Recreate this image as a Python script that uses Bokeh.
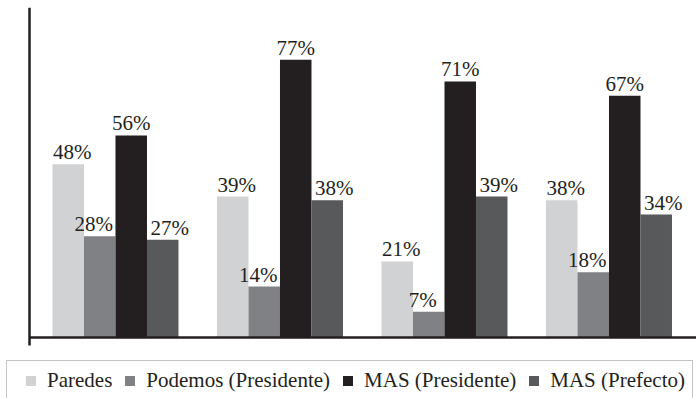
from bokeh.plotting import figure
from bokeh.models import (ColumnDataSource, Range1d, Legend, LegendItem,
                          FixedTicker, LinearAxis)
from bokeh.transform import dodge
from bokeh.embed import file_html
from bokeh.resources import INLINE
from bokeh.core.properties import value

# ---- data ----
groups = [0, 1, 2, 3]
series = ["Paredes", "Podemos (Presidente)", "MAS (Presidente)", "MAS (Prefecto)"]
paredes = [48, 39, 21, 38]
podemos = [28, 14, 7, 18]
mas_presidente = [56, 77, 71, 67]
mas_prefecto = [27, 38, 39, 34]
colors = ["#d1d2d4", "#808184", "#231f20", "#58595b"]

values = [paredes, podemos, mas_presidente, mas_prefecto]

BAR_W = 0.1915
offsets = [-1.5 * BAR_W, -0.5 * BAR_W, 0.5 * BAR_W, 1.5 * BAR_W]
label_dx = [4, -6, 0, 7]
FONT = "'Liberation Serif', 'Times New Roman', serif"
INK = "#231f20"
X_MIN, X_MAX = -0.699, 3.532
Y_MIN, Y_MAX = -17.08, 91.53
Y_AXIS_AT = -0.5228

p = figure(width=696, height=398, output_backend="svg", toolbar_location=None,
           x_range=Range1d(X_MIN, X_MAX), y_range=Range1d(Y_MIN, Y_MAX),
           x_axis_location=None, y_axis_location=None,
           min_border_left=0, min_border_right=0, min_border_top=7,
           min_border_bottom=0)
p.outline_line_color = None
p.grid.visible = False
p.background_fill_color = "white"

axis_style = dict(ticker=FixedTicker(ticks=[]),
                  major_label_text_font_size="1px", major_label_text_alpha=0,
                  major_tick_line_color=None, minor_tick_line_color=None,
                  major_tick_out=0, major_tick_in=0,
                  axis_line_color=INK, axis_line_width=2.5)
yax = LinearAxis(fixed_location=Y_AXIS_AT, bounds=(-2.36, Y_MAX), **axis_style)
p.add_layout(yax, "left")
xax = LinearAxis(fixed_location=0, bounds=(Y_AXIS_AT, X_MAX), **axis_style)
p.add_layout(xax, "below")

items = []
for name, vals, col, off, dx in zip(series, values, colors, offsets, label_dx):
    src = ColumnDataSource(dict(g=groups, v=vals, mid=[v / 2 for v in vals],
                                t=[f"{v}%" for v in vals]))
    p.vbar(x=dodge("g", off), top="v", bottom=0, width=BAR_W, source=src,
           fill_color=col, line_color=None)
    p.text(x=dodge("g", off), y="v", text="t", source=src,
           text_font=value(FONT), text_font_size="21px", text_color=INK,
           text_align="center", text_baseline="bottom",
           x_offset=dx, y_offset=0)
    # legend swatch (same colour, sits hidden inside each bar)
    proxy = p.scatter(x=dodge("g", off), y="mid", source=src, marker="square",
                      size=10, fill_color=col, line_color=None)
    items.append(LegendItem(label=name, renderers=[proxy]))

legend = Legend(items=items, orientation="horizontal", location=(6, -3),
                glyph_width=33, glyph_height=25, label_standoff=0, spacing=1,
                padding=7, margin=0,
                label_text_font=FONT, label_text_font_size="21px",
                label_text_color=INK,
                border_line_color="#8a8a8a", border_line_width=1.5,
                background_fill_color="white")
p.add_layout(legend, "center")

open("out.html", "w").write(file_html(p, INLINE))
